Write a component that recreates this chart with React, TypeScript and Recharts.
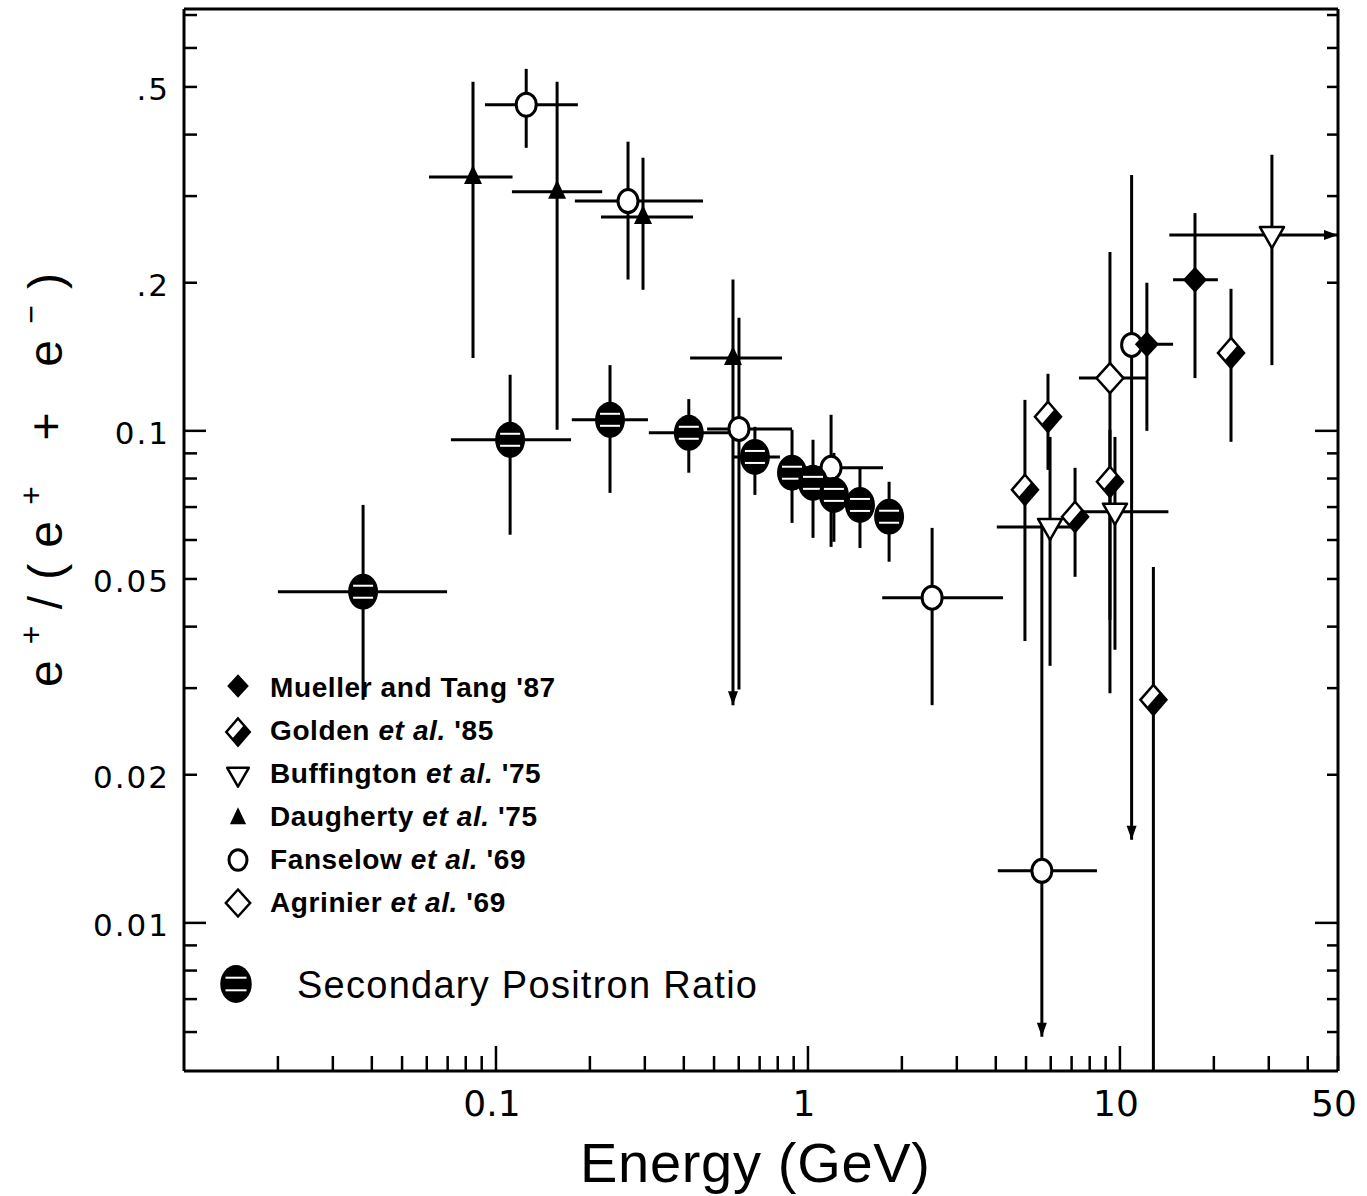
import { ScatterChart, Scatter, XAxis, YAxis, ErrorBar, Legend, Label } from "recharts";

const INK = "#000";
const NUM_FONT = "'DejaVu Sans', sans-serif";
const TEXT_FONT = "'Liberation Sans', Arial, sans-serif";

// [energy, energy low, energy high, ratio, ratio low, ratio high] — GeV and e+/(e+ + e-)
type Row = [number, number | null, number | null, number, number, number];

const SECONDARY: Row[] = [
  [0.0375, 0.02, 0.0697, 0.0471, 0.0284, 0.0707],
  [0.111, 0.0717, 0.174, 0.0959, 0.0615, 0.13],
  [0.232, 0.175, 0.307, 0.1053, 0.0748, 0.136],
  [0.415, 0.309, 0.562, 0.0991, 0.0822, 0.116],
  [0.676, 0.571, 0.813, 0.0885, 0.0741, 0.1019],
  [0.889, null, null, 0.0822, 0.065, 0.1005],
  [1.038, null, null, 0.0784, 0.0606, 0.0959],
  [1.211, null, null, 0.0741, 0.0595, 0.0902],
  [1.468, null, null, 0.0707, 0.0578, 0.0841],
  [1.82, null, null, 0.0669, 0.0542, 0.0788],
];

const FANSELOW: Row[] = [
  [0.125, 0.0922, 0.183, 0.46, 0.376, 0.544],
  [0.265, 0.179, 0.461, 0.293, 0.203, 0.387],
  [0.601, 0.475, 0.889, 0.1009, 0.0298, 0.1697],
  [1.186, 0.943, 1.74, 0.0841, 0.0581, 0.1078],
  [2.5, 1.73, 4.22, 0.0458, 0.0277, 0.0635],
  [5.62, 4.06, 8.44, 0.01276, 0.00587, 0.066],
  [10.9, null, null, 0.1495, 0.01475, 0.331],
];

const DAUGHERTY: Row[] = [
  [0.0844, 0.061, 0.113, 0.328, 0.1407, 0.512],
  [0.157, 0.1125, 0.219, 0.306, 0.1005, 0.512],
  [0.296, 0.217, 0.428, 0.272, 0.1935, 0.359],
  [0.575, 0.419, 0.826, 0.1407, 0.0277, 0.203],
];

const MUELLER: Row[] = [
  [12.2, 10.2, 14.8, 0.15, 0.1, 0.2],
  [17.4, 14.8, 20.6, 0.2027, 0.128, 0.277],
];

const GOLDEN: Row[] = [
  [4.96, null, null, 0.0759, 0.0374, 0.1156],
  [5.88, null, null, 0.1068, 0.0833, 0.1306],
  [7.18, null, null, 0.0669, 0.0505, 0.0841],
  [9.29, null, null, 0.0788, 0.0413, 0.1005],
  [12.8, null, null, 0.0284, 0.005, 0.0529],
  [22.7, null, null, 0.144, 0.095, 0.1944],
];

const AGRINIER: Row[] = [[9.29, 7.39, 12.3, 0.128, 0.0293, 0.231]];

const BUFFINGTON: Row[] = [
  [5.97, 4.03, 7.33, 0.0638, 0.0333, 0.0972],
  [9.64, 7.18, 14.3, 0.0685, 0.0359, 0.0972],
  [30.7, 14.4, 50, 0.25, 0.136, 0.364],
];

// arrow tips of the upper limits: [energy, ratio, direction]
const LIMITS: [number, number, "down" | "right"][] = [
  [0.575, 0.0277, "down"],
  [5.62, 0.00587, "down"],
  [10.9, 0.01475, "down"],
  [50, 0.25, "right"],
];

const LEGEND_NAMES = [
  "Mueller and Tang '87",
  "Golden et al. '85",
  "Buffington et al. '75",
  "Daugherty et al. '75",
  "Fanselow et al. '69",
  "Agrinier et al. '69",
];
const SECONDARY_NAME = "Secondary Positron Ratio";

const X_DOMAIN = [0.01, 50];
const Y_DOMAIN = [0.005, 0.72];
const X_TICKS = [
  0.02, 0.03, 0.04, 0.05, 0.06, 0.07, 0.08, 0.09, 0.1, 0.2, 0.3, 0.4, 0.5, 0.6, 0.7, 0.8, 0.9, 1, 2, 3, 4,
  5, 6, 7, 8, 9, 10, 20, 30, 40, 50,
];
const X_MAJOR = [0.1, 1, 10];
const X_LABELS: [number, string][] = [
  [0.1, "0.1"],
  [1, "1"],
  [10, "10"],
  [50, "50"],
];
const Y_TICKS = [
  0.006, 0.007, 0.008, 0.009, 0.01, 0.02, 0.03, 0.04, 0.05, 0.06, 0.07, 0.08, 0.09, 0.1, 0.2, 0.3, 0.4,
  0.5, 0.6, 0.7,
];
const Y_MAJOR = [0.01, 0.1];
const Y_LABELS: [number, string][] = [
  [0.5, ".5"],
  [0.2, ".2"],
  [0.1, "0.1"],
  [0.05, "0.05"],
  [0.02, "0.02"],
  [0.01, "0.01"],
];

const toPoints = (rows: Row[]) =>
  rows.map(([x, xLo, xHi, y, yLo, yHi]) => ({
    x,
    y,
    ex: xLo == null || xHi == null ? [0, 0] : [x - xLo, xHi - x],
    ey: [y - yLo, yHi - y],
  }));

const labelFor = (list: [number, string][], v: number) => list.find(([k]) => k === v)?.[1];

// ---- markers ----
type M = { cx?: number; cy?: number; s?: number };

function SecondaryMark({ cx = 0, cy = 0, s = 1 }: M) {
  return (
    <g>
      <ellipse cx={cx} cy={cy} rx={15 * s} ry={18 * s} fill={INK} />
      <line x1={cx - 10 * s} x2={cx + 10 * s} y1={cy - 6 * s} y2={cy - 6 * s} stroke="#fff" strokeWidth={2} />
      <line x1={cx - 10 * s} x2={cx + 10 * s} y1={cy + 6 * s} y2={cy + 6 * s} stroke="#fff" strokeWidth={2} />
    </g>
  );
}

function OpenCircle({ cx = 0, cy = 0, s = 1 }: M) {
  return <ellipse cx={cx} cy={cy} rx={10 * s} ry={11.5 * s} fill="#fff" stroke={INK} strokeWidth={3} />;
}

function FilledTriangle({ cx = 0, cy = 0, s = 1 }: M) {
  return (
    <polygon
      points={`${cx},${cy - 12 * s} ${cx + 9 * s},${cy + 7 * s} ${cx - 9 * s},${cy + 7 * s}`}
      fill={INK}
    />
  );
}

function OpenTriangleDown({ cx = 0, cy = 0, s = 1 }: M) {
  return (
    <polygon
      points={`${cx - 12 * s},${cy - 8 * s} ${cx + 12 * s},${cy - 8 * s} ${cx},${cy + 13 * s}`}
      fill="#fff"
      stroke={INK}
      strokeWidth={2.5}
      strokeLinejoin="round"
    />
  );
}

function FilledDiamond({ cx = 0, cy = 0, s = 1 }: M) {
  return (
    <polygon
      points={`${cx},${cy - 13 * s} ${cx + 12 * s},${cy} ${cx},${cy + 13 * s} ${cx - 12 * s},${cy}`}
      fill={INK}
    />
  );
}

function OpenDiamond({ cx = 0, cy = 0, s = 1 }: M) {
  const w = 13.5 * s;
  const h = 15 * s;
  return (
    <polygon
      points={`${cx},${cy - h} ${cx + w},${cy} ${cx},${cy + h} ${cx - w},${cy}`}
      fill="#fff"
      stroke={INK}
      strokeWidth={2.5}
    />
  );
}

function HalfDiamond({ cx = 0, cy = 0, s = 1 }: M) {
  const w = 13 * s;
  const h = 15 * s;
  return (
    <g>
      <polygon
        points={`${cx},${cy - h} ${cx + w},${cy} ${cx},${cy + h} ${cx - w},${cy}`}
        fill="#fff"
        stroke={INK}
        strokeWidth={2.5}
      />
      <polygon
        points={`${cx + w / 2},${cy - h / 2} ${cx + w},${cy} ${cx},${cy + h} ${cx - w / 2},${cy + h / 2}`}
        fill={INK}
      />
    </g>
  );
}

function LimitArrow(p: any) {
  const { cx = 0, cy = 0, payload } = p;
  if (payload?.dir === "right") {
    return <polygon points={`${cx - 14},${cy - 5} ${cx - 14},${cy + 5} ${cx},${cy}`} fill={INK} />;
  }
  return <polygon points={`${cx - 5},${cy - 14} ${cx + 5},${cy - 14} ${cx},${cy}`} fill={INK} />;
}

// ---- inward ticks on all four sides ----
function BottomTick({ x, y, payload }: any) {
  const v = payload.value;
  const label = labelFor(X_LABELS, v);
  return (
    <g>
      <line x1={x} x2={x} y1={y} y2={y - (X_MAJOR.includes(v) ? 25 : 15)} stroke={INK} strokeWidth={2.5} />
      {label && (
        <text x={x - 4} y={y + 45} textAnchor="middle" fontFamily={NUM_FONT} fontSize={36} fill={INK}>
          {label}
        </text>
      )}
    </g>
  );
}

function TopTick({ x, y, payload }: any) {
  const v = payload.value;
  return <line x1={x} x2={x} y1={y} y2={y + (X_MAJOR.includes(v) ? 30 : 17)} stroke={INK} strokeWidth={2.5} />;
}

function LeftTick({ x, y, payload }: any) {
  const v = payload.value;
  const label = labelFor(Y_LABELS, v);
  return (
    <g>
      <line x1={x} x2={x + (Y_MAJOR.includes(v) ? 22 : 13)} y1={y} y2={y} stroke={INK} strokeWidth={2.5} />
      {label && (
        <text
          x={x - 14}
          y={y + 13}
          textAnchor="end"
          fontFamily={NUM_FONT}
          fontSize={31}
          letterSpacing={2}
          fill={INK}
        >
          {label}
        </text>
      )}
    </g>
  );
}

function RightTick({ x, y, payload }: any) {
  const v = payload.value;
  return <line x1={x} x2={x - (Y_MAJOR.includes(v) ? 23 : 11)} y1={y} y2={y} stroke={INK} strokeWidth={2.5} />;
}

function EnergyTitle({ viewBox }: any) {
  const { x, y, width } = viewBox;
  return (
    <text
      x={x + width / 2 - 6}
      y={y + 111}
      textAnchor="middle"
      fontFamily={TEXT_FONT}
      fontSize={56}
      textLength={350}
      lengthAdjust="spacing"
      fill={INK}
    >
      Energy (GeV)
    </text>
  );
}

function RatioTitle({ viewBox }: any) {
  const { x, y, height } = viewBox;
  return (
    <text
      transform={`translate(${x - 2},${y + height / 2 - 60}) rotate(-90)`}
      textAnchor="middle"
      fontFamily={TEXT_FONT}
      fontSize={48}
      textLength={414}
      lengthAdjust="spacing"
      fill={INK}
    >
      e
      <tspan dy={-20} fontSize={32}>
        +
      </tspan>
      <tspan dy={20}>/(e</tspan>
      <tspan dy={-20} fontSize={32}>
        +
      </tspan>
      <tspan dy={20}>{" + e"}</tspan>
      <tspan dy={-20} fontSize={32}>
        −
      </tspan>
      <tspan dy={20}>)</tspan>
    </text>
  );
}

const LEGEND_MARKS = [FilledDiamond, HalfDiamond, OpenTriangleDown, FilledTriangle, OpenCircle, OpenDiamond];
const LEGEND_MARK_Y = [36, 82, 125, 168, 210, 253];

function KeyBox() {
  return (
    <svg width={600} height={380} style={{ display: "block", overflow: "visible" }}>
      {LEGEND_NAMES.map((name, i) => {
        const Mark = LEGEND_MARKS[i];
        const base = 47 + i * 43;
        const parts = name.split("et al.");
        return (
          <g key={name}>
            <Mark cx={38} cy={LEGEND_MARK_Y[i]} s={0.9} />
            <text
              x={70}
              y={base}
              fontFamily={TEXT_FONT}
              fontWeight="bold"
              fontSize={28}
              letterSpacing={0.6}
              fill={INK}
            >
              {parts.length === 1 ? (
                name
              ) : (
                <>
                  {parts[0]}
                  <tspan fontStyle="italic">et al.</tspan>
                  {parts[1]}
                </>
              )}
            </text>
          </g>
        );
      })}
      <SecondaryMark cx={36} cy={334} s={1.05} />
      <text
        x={97}
        y={348}
        fontFamily={TEXT_FONT}
        fontSize={38}
        textLength={460}
        lengthAdjust="spacing"
        fill={INK}
      >
        {SECONDARY_NAME}
      </text>
    </svg>
  );
}

const axisLine = { stroke: INK, strokeWidth: 3 };

const SERIES: { rows: Row[]; mark: (p: M) => any }[] = [
  { rows: DAUGHERTY, mark: FilledTriangle },
  { rows: FANSELOW, mark: OpenCircle },
  { rows: SECONDARY, mark: SecondaryMark },
  { rows: BUFFINGTON, mark: OpenTriangleDown },
  { rows: AGRINIER, mark: OpenDiamond },
  { rows: GOLDEN, mark: HalfDiamond },
  { rows: MUELLER, mark: FilledDiamond },
];

export default function App() {
  return (
    <div style={{ position: "absolute", left: 0, top: 0, background: "#fff" }}>
      <ScatterChart width={1367} height={1196} margin={{ top: 8, right: 28, bottom: 65, left: 64 }}>
        <XAxis
          dataKey="x"
          type="number"
          scale="log"
          domain={X_DOMAIN}
          allowDataOverflow
          ticks={X_TICKS}
          interval={0}
          height={60}
          tickSize={0}
          tickMargin={0}
          tickLine={false}
          axisLine={axisLine}
          tick={(p: any) => <BottomTick {...p} />}
        >
          <Label content={(p: any) => <EnergyTitle viewBox={p.viewBox} />} />
        </XAxis>
        <XAxis
          xAxisId="top"
          orientation="top"
          type="number"
          scale="log"
          domain={X_DOMAIN}
          allowDataOverflow
          ticks={X_TICKS}
          interval={0}
          height={1}
          tickSize={0}
          tickMargin={0}
          tickLine={false}
          axisLine={axisLine}
          tick={(p: any) => <TopTick {...p} />}
        />
        <YAxis
          dataKey="y"
          type="number"
          scale="log"
          domain={Y_DOMAIN}
          allowDataOverflow
          ticks={Y_TICKS}
          interval={0}
          width={120}
          tickSize={0}
          tickMargin={0}
          tickLine={false}
          axisLine={axisLine}
          tick={(p: any) => <LeftTick {...p} />}
        >
          <Label content={(p: any) => <RatioTitle viewBox={p.viewBox} />} />
        </YAxis>
        <YAxis
          yAxisId="right"
          orientation="right"
          type="number"
          scale="log"
          domain={Y_DOMAIN}
          allowDataOverflow
          ticks={Y_TICKS}
          interval={0}
          width={1}
          tickSize={0}
          tickMargin={0}
          tickLine={false}
          axisLine={axisLine}
          tick={(p: any) => <RightTick {...p} />}
        />
        {SERIES.map(({ rows, mark: Mark }, i) => (
          <Scatter
            key={i}
            data={toPoints(rows)}
            isAnimationActive={false}
            legendType="none"
            shape={(p: any) => <Mark cx={p.cx} cy={p.cy} />}
          >
            <ErrorBar dataKey="ex" direction="x" width={0} stroke={INK} strokeWidth={3} />
            <ErrorBar dataKey="ey" direction="y" width={0} stroke={INK} strokeWidth={3} />
          </Scatter>
        ))}
        <Scatter
          data={LIMITS.map(([x, y, dir]) => ({ x, y, dir }))}
          isAnimationActive={false}
          legendType="none"
          shape={(p: any) => <LimitArrow {...p} />}
        />
        <Legend
          layout="vertical"
          align="center"
          verticalAlign="middle"
          wrapperStyle={{ left: 200, top: 650, width: 600, height: 380 }}
          content={() => <KeyBox />}
        />
      </ScatterChart>
    </div>
  );
}
